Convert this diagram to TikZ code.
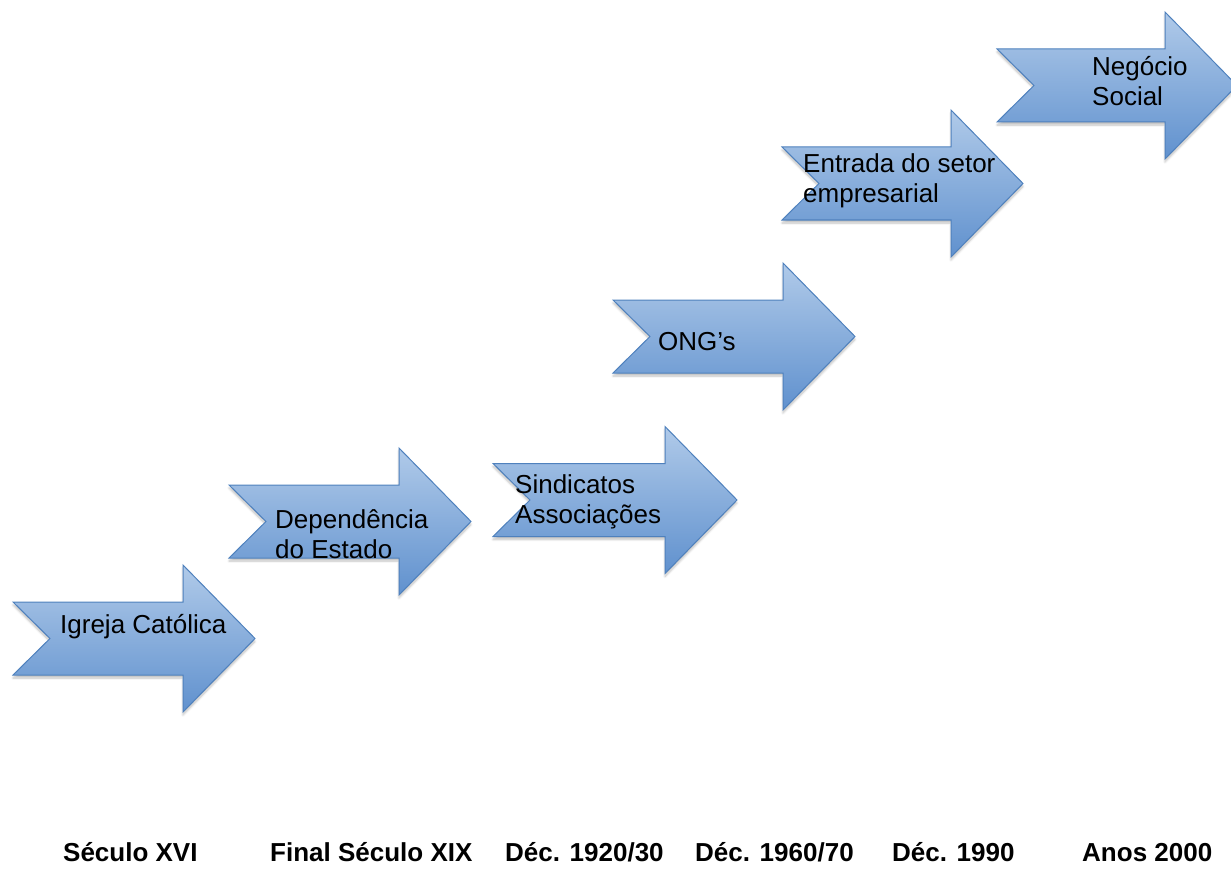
\documentclass[tikz,border=0pt]{standalone}
\usepackage{fontspec}
\setmainfont{Liberation Sans}
\usetikzlibrary{shadows.blur}
\definecolor{arrTop}{RGB}{176,202,233}
\definecolor{arrBot}{RGB}{96,145,206}
\definecolor{arrLine}{RGB}{79,129,189}
\tikzset{
  bigarrow/.style={draw=arrLine, line width=1pt, top color=arrTop, bottom color=arrBot, line join=miter,
    blur shadow={shadow xshift=0pt, shadow yshift=-3pt, shadow blur steps=6, shadow opacity=25}},
  lbl/.style={font=\fontsize{26}{30}\selectfont, inner sep=0pt, anchor=base west},
  era/.style={font=\fontsize{26}{30}\selectfont\bfseries, inner sep=0pt, anchor=base west}
}
% #1 left x, #2 centre y, #3 total width
\newcommand\bluearrow[3]{%
  \draw[bigarrow] (#1,#2-36.5) -- (#1+#3-72,#2-36.5) -- (#1+#3-72,#2-73.5) -- (#1+#3,#2)
    -- (#1+#3-72,#2+73.5) -- (#1+#3-72,#2+36.5) -- (#1,#2+36.5) -- (#1+37,#2) -- cycle;}
\newcommand\twolines[2]{\begin{tabular}[t]{@{}l@{}}#1\\#2\end{tabular}}
\begin{document}
\begin{tikzpicture}[x=1pt,y=-1pt]
  \useasboundingbox (0,0) rectangle (1231,869);
  \bluearrow{13}{638.5}{242}
  \bluearrow{229}{521.5}{242}
  \bluearrow{493}{500}{244}
  \bluearrow{613}{336.5}{242}
  \bluearrow{782}{183.5}{241}
  \bluearrow{997}{85.5}{240}

  \node[lbl] (t1) at (60,633) {Igreja Católica};
  \node[lbl] (t2) at (275,528) {\twolines{Dependência}{do Estado}};
  \node[lbl] (t3) at (515,493) {\twolines{Sindicatos}{Associações}};
  \node[lbl] (t4) at (658,350) {ONG’s};
  \node[lbl] (t5) at (803,173) {\twolines{Entrada do setor}{empresarial}};
  \node[lbl] (t6) at (1092,76) {\twolines{Negócio}{Social}};

  \node[era] (e1) at (63,861) {Século XVI};
  \node[era] (e2) at (270,861) {Final Século XIX};
  \node[era] (e3) at (505,861) {Déc. 1920/30};
  \node[era] (e4) at (695,861) {Déc. 1960/70};
  \node[era] (e5) at (892,861) {Déc. 1990};
  \node[era] (e6) at (1082,861) {Anos 2000};
\end{tikzpicture}
\end{document}
